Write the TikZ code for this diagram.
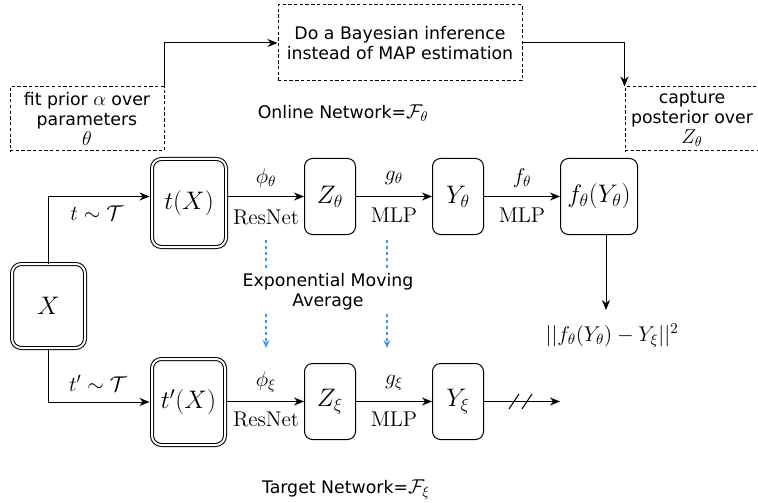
\RequirePackage{fix-cm}
\documentclass[tikz,border=0pt]{standalone}
\usepackage[no-math]{fontspec}
\setmainfont{DejaVu Sans}
\usetikzlibrary{arrows.meta,calc}
\definecolor{emablue}{RGB}{51,153,255}
% math set a little larger than the surrounding sans text
\newcommand{\notemath}[1]{{\fontsize{15}{15}\selectfont$#1$}}
\tikzset{
  box/.style={draw, rounded corners=6pt, line width=0.75pt, inner sep=0pt,
              font=\fontsize{19}{21}\selectfont},
  dbox/.style={box, double, double distance=1.5pt, rounded corners=7pt},
  note/.style={draw, dash pattern=on 2.5pt off 1.8pt, line width=0.75pt,
               align=center, inner sep=0pt, font=\fontsize{13}{15}\selectfont},
  arr/.style={-{Stealth[length=7.5pt,width=6pt]}, line width=0.75pt},
  lab/.style={font=\fontsize{16}{18}\selectfont, inner sep=0pt},
  txt/.style={font=\fontsize{13}{15}\selectfont, align=center, inner sep=0pt},
  ema/.style={draw=emablue, line width=0.8pt, dash pattern=on 2.3pt off 2.3pt,
              -{Stealth[length=6pt,width=5pt]}}
}
\begin{document}
\begin{tikzpicture}[x=0.75pt,y=-0.75pt]
\useasboundingbox (0,0) rectangle (758,503);

% annotation boxes
\node[note, minimum width=183pt, minimum height=57pt] (bayes) at (400,43)
  {Do a Bayesian inference\\[-0.6pt]instead of MAP estimation};
\node[note, minimum width=115.5pt, minimum height=48pt] (prior) at (87,119)
  {fit prior \notemath{\alpha} over\\parameters\\\notemath{\theta}};
\node[note, minimum width=100.5pt, minimum height=48pt] (post) at (692,119)
  {capture\\posterior over\\\notemath{Z_\theta}};
\draw[arr] (prior.north east) |- (bayes.west);
\draw[arr] (bayes.east) -| (post.north west);

\node[txt] (online) at (343,113) {Online Network=\notemath{\mathcal{F}_\theta}};
\node[txt] (target) at (346,490) {Target Network=\notemath{\mathcal{F}_\xi}};

% input and augmented views
\node[dbox, minimum width=54.75pt, minimum height=63pt] (X) at (48.5,306) {$X$};
\node[dbox, minimum width=55.5pt, minimum height=66pt] (tX) at (189,203) {$t(X)$};
\node[dbox, minimum width=54.75pt, minimum height=64.5pt] (tpX) at (188.5,402) {$t'(X)$};

% online branch
\node[box, minimum width=38.25pt, minimum height=57pt] (Zt) at (330,196.5) {$Z_\theta$};
\node[box, minimum width=38.25pt, minimum height=57pt] (Yt) at (458,196.5) {$Y_\theta$};
\node[box, minimum width=57.75pt, minimum height=57pt] (fY) at (599,196.5) {$f_\theta(Y_\theta)$};

% target branch
\node[box, minimum width=38.25pt, minimum height=57pt] (Zx) at (330,401.5) {$Z_\xi$};
\node[box, minimum width=38.25pt, minimum height=57pt] (Yx) at (458,401.5) {$Y_\xi$};

% connectors
\draw[arr, shorten >=1.5pt] (X.north) |- (tX.west |- Zt.west);
\draw[arr, shorten >=1.5pt] (X.south) |- (tpX.west);
\draw[arr] (tX.east |- Zt.west) -- (Zt.west);
\draw[arr] (Zt.east) -- (Yt.west);
\draw[arr] (Yt.east) -- (fY.west);
\draw[arr] (tpX.east |- Zx.west) -- (Zx.west);
\draw[arr] (Zx.east) -- (Yx.west);
\coordinate (stop) at (560,401.5);
\draw[arr] (Yx.east) -- (stop);
\draw[line width=0.75pt] (509,409) -- (519,394) (522,409) -- (532,394);

\coordinate (lossin) at (606,310);
\draw[arr] (fY.south -| lossin) -- (lossin);
\node[lab] (loss) at (612,336) {$||f_\theta(Y_\theta)-Y_\xi||^2$};

% edge labels
\node[lab] (l1) at (97,213) {$t\sim\mathcal{T}$};
\node[lab] (l2) at (98,383) {$t'\sim\mathcal{T}$};
\node[lab] (phit) at (266,178) {$\phi_\theta$};
\node[lab] (rn1) at (266,217) {$\mathrm{ResNet}$};
\node[lab] (gt) at (394,178) {$g_\theta$};
\node[lab] (mlp1) at (394,215) {$\mathrm{MLP}$};
\node[lab] (ft) at (522,178) {$f_\theta$};
\node[lab] (mlp2) at (522,215) {$\mathrm{MLP}$};
\node[lab] (phix) at (266,382) {$\phi_\xi$};
\node[lab] (rn2) at (266,419) {$\mathrm{ResNet}$};
\node[lab] (gx) at (394,383) {$g_\xi$};
\node[lab] (mlp3) at (394,419) {$\mathrm{MLP}$};

% exponential moving average links
\coordinate (e1s) at (266,240); \coordinate (e1e) at (266,348);
\coordinate (e2s) at (387,240); \coordinate (e2e) at (387,348);
\draw[ema] (e1s) -- (e1e);
\draw[ema] (e2s) -- (e2e);
\node[txt, fill=white, inner ysep=2.5pt, inner xsep=1pt] (emat) at (328,292)
  {Exponential Moving\\Average};
\end{tikzpicture}
\end{document}
